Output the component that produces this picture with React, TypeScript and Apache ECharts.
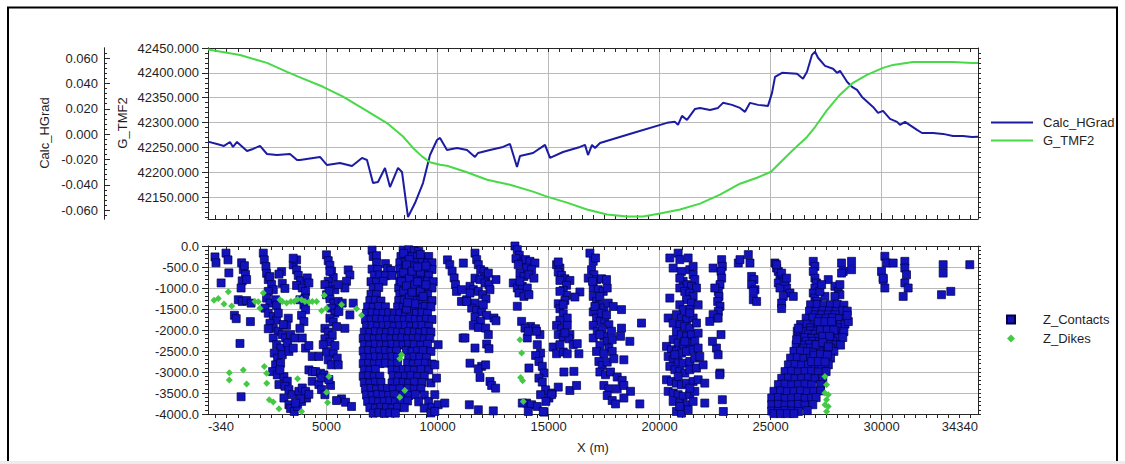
import { useEffect, useRef } from 'react';
import * as echarts from 'echarts';

const FONT = "'Liberation Sans', Arial, Helvetica, sans-serif";
const AXIS = '#262626';
const GRID = '#bababa';
const TEXT = '#1f1f1f';
const BLUE = '#1c1ca3';
const GREEN = '#47d947';

const X_MIN = -340;
const X_MAX = 34340;

// Tick labels
const xLabelValues = [-340, 5000, 10000, 15000, 20000, 25000, 30000, 34340];
const xGridValues = [5000, 10000, 15000, 20000, 25000, 30000];
const tmfLabelValues = [42150, 42200, 42250, 42300, 42350, 42400, 42450];
const gradLabelValues = [-0.06, -0.04, -0.02, 0, 0.02, 0.04, 0.06];
const depthLabelValues = [0, -500, -1000, -1500, -2000, -2500, -3000, -3500, -4000];

// Profile: horizontal gradient along X
const calcHGrad: [number, number][] = [
  [-340, -0.0059], [65, -0.0078], [381, -0.0093], [651, -0.0062], [786, -0.0101], [966, -0.0062],
  [1417, -0.0133], [1687, -0.0117], [2002, -0.0093], [2317, -0.0157], [2768, -0.0165], [3353, -0.0157],
  [3669, -0.0204], [3804, -0.0204], [4704, -0.018], [5020, -0.0244], [5605, -0.0228], [6146, -0.0252],
  [6596, -0.0188], [6821, -0.0204], [7092, -0.0386], [7317, -0.0378], [7632, -0.0267], [7857, -0.0418],
  [8218, -0.0267], [8398, -0.0299], [8668, -0.0655], [8983, -0.0544], [9344, -0.0386], [9659, -0.0165],
  [9974, -0.0046], [10109, -0.003], [10424, -0.0125], [10875, -0.0109], [11325, -0.0125], [11685, -0.018],
  [11821, -0.0149], [12361, -0.0125], [12947, -0.0101], [13262, -0.0078], [13577, -0.0259], [13712, -0.0172],
  [14298, -0.0149], [14838, -0.0085], [15064, -0.0188], [15649, -0.0141], [16415, -0.0101], [16640, -0.0085],
  [16775, -0.0165], [16955, -0.0085], [17090, -0.0109], [17316, -0.007], [18802, 0.0009], [20333, 0.0089],
  [20693, 0.0097], [20829, 0.0073], [21009, 0.0144], [21234, 0.0112], [21595, 0.0199], [21820, 0.0207],
  [22270, 0.0191], [22630, 0.0207], [22856, 0.0247], [23261, 0.0231], [23621, 0.0207], [23846, 0.0176],
  [24072, 0.0247], [24432, 0.0231], [24882, 0.0223], [25063, 0.0326], [25198, 0.0452], [25513, 0.0484],
  [26189, 0.0476], [26459, 0.0437], [26639, 0.0492], [26864, 0.0626], [27000, 0.065], [27135, 0.0603],
  [27450, 0.0539], [27810, 0.0516], [27990, 0.0484], [28125, 0.05], [28441, 0.0413], [28666, 0.0373],
  [28891, 0.035], [29116, 0.0294], [29612, 0.0215], [29837, 0.0168], [30062, 0.0184], [30377, 0.012],
  [30693, 0.0097], [30828, 0.0073], [31053, 0.0097], [31593, 0.0033], [31819, 0.0009], [32314, 0.0009],
  [32765, 0.0002], [33215, -0.0014], [33665, -0.0014], [34071, -0.0022], [34340, -0.002],
];

// Profile: total magnetic field
const gTMF2: [number, number][] = [
  [-340, 42447], [1101, 42436], [2317, 42420], [3218, 42402], [3804, 42391], [4840, 42372],
  [5740, 42352], [6866, 42322], [7722, 42299], [8443, 42272], [8893, 42249], [9299, 42232],
  [9659, 42220], [10109, 42215], [10424, 42213], [11325, 42200], [12226, 42185], [13262, 42175],
  [14298, 42161], [14928, 42151], [15829, 42139], [16730, 42125], [17631, 42115], [18532, 42111],
  [19252, 42111], [20018, 42117], [20919, 42125], [21820, 42137], [22721, 42155], [23621, 42177],
  [24387, 42189], [25018, 42201], [25423, 42219], [26009, 42245], [26639, 42271], [27000, 42291],
  [27540, 42325], [28125, 42356], [28711, 42380], [29341, 42396], [30062, 42410], [30512, 42416],
  [31413, 42422], [32314, 42422], [33215, 42422], [34071, 42420], [34340, 42420],
];

// Section: contact picks [X, Z]
const zContacts: [number, number][] = [
  // 0 - 1600 m
  [-25, -260], [20, -400], [470, -170], [560, -330], [600, -640], [250, -880],
  [1175, -400], [1250, -560], [1350, -680], [1200, -830], [1400, -800], [1150, -1000], [1025, -1280],
  [1200, -1320], [1400, -1300], [1600, -1360], [850, -1650], [930, -1730], [1570, -1800], [1100, -2320],
  [1150, -3590], [1300, -470],
  // 2000 - 4800 m
  [2150, -170], [2195, -330], [2270, -490], [2300, -650], [2375, -800], [2525, -920], [2600, -1040],
  [2375, -1080], [2300, -1240], [2450, -1360], [2705, -1280], [2225, -1480], [2375, -1600], [2600, -1680],
  [2750, -1760], [2450, -1840], [2600, -1960], [2375, -1970], [2825, -2030], [2600, -2190], [3005, -2110],
  [2750, -2350], [2945, -2430], [3155, -2190], [3245, -2310], [2645, -2550], [2795, -2670], [3005, -2590],
  [3305, -2510], [2705, -2830], [2930, -2790], [2570, -2990], [2780, -3070], [3080, -3110], [3230, -3220],
  [2855, -3300], [3125, -3340], [3305, -3420], [3455, -3540], [3080, -3620], [3305, -3780], [3380, -3870],
  [3545, -3940], [3695, -3820], [3875, -3700], [4025, -3500], [4100, -3620], [3755, -3460], [3905, -3380],
  [2975, -610], [2855, -670], [3005, -890], [3125, -1010], [2750, -1410], [3275, -1720], [3200, -1890],
  [3380, -2110], [3575, -2190], [3500, -2430], [2450, -730], [2825, -1600], [3050, -1870], [2900, -2950],
  [3500, -450], [3650, -570], [3725, -700], [3830, -830], [3650, -940], [3905, -1000], [4055, -1080],
  [4130, -760], [4205, -880], [3980, -1400], [4055, -1520], [3875, -1650], [3980, -1800], [3800, -1960],
  [3905, -2190], [4055, -2430], [4205, -2370], [4355, -2630], [4655, -2630], [4205, -2950], [4355, -2990],
  [4505, -2990], [4730, -3030], [4880, -3070], [4355, -3220], [4655, -3300], [4055, -3460], [4205, -3530],
  [3830, -3640], [3605, -3740], [4025, -1240], [3800, -1280], [3650, -330], [3500, -290],
  // 4700 - 6200 m
  [4995, -210], [5075, -350], [5150, -460], [5225, -600], [5300, -750], [5075, -840], [5150, -960],
  [5375, -1040], [5000, -1160], [5150, -1250], [5330, -1360], [5525, -1320], [5705, -1360], [5975, -570],
  [6050, -690], [5900, -840], [5825, -1000], [5225, -1480], [5375, -1600], [5555, -1560], [5150, -1720],
  [5300, -1810], [5450, -1920], [4925, -1960], [5075, -2050], [5255, -2130], [4925, -2210], [5150, -2290],
  [5375, -2370], [5825, -1960], [6050, -1640], [5000, -2510], [5300, -2570], [5480, -2670], [5075, -2710],
  [5225, -2830], [5525, -2830], [6200, -1360], [5180, -3320], [5675, -3640], [5855, -3720], [6125, -3820],
  [5450, -3680], [4775, -3420], [4925, -3540], [5150, -600], [5525, -920], [4925, -920], [5105, -1080],
  [4775, -3140], [5105, -3180], [4850, -2350],
  // 6600 - 10300 m
  [7050, -100], [8450, -100], [8700, -90], [8950, -110], [9150, -130],
  [7100, -250], [7250, -230], [8350, -250], [8600, -240], [8850, -260], [9100, -250], [9350, -270], [9600, -250],
  [7250, -400], [7650, -420], [8300, -400], [8550, -390], [8800, -410], [9050, -400], [9300, -390], [9550, -410], [9750, -400],
  [7050, -550], [7300, -560], [7750, -540], [7900, -580], [8300, -550], [8550, -560], [8800, -540], [9050, -550],
  [9300, -560], [9550, -540], [9750, -560],
  [7150, -700], [7400, -690], [7650, -710], [7950, -700], [8350, -700], [8600, -690], [8850, -710], [9100, -700],
  [9350, -690], [9600, -710],
  [7000, -850], [7250, -860], [7550, -840], [8300, -850], [8550, -860], [8800, -840], [9050, -850], [9300, -860],
  [9550, -840], [9800, -850],
  [7100, -1000], [7350, -990], [8250, -1000], [8500, -1010], [8750, -990], [9000, -1000], [9250, -1010],
  [9500, -990], [9750, -1000],
  [7000, -1150], [7250, -1160], [8300, -1150], [8550, -1140], [8800, -1160], [9050, -1150], [9300, -1140], [9550, -1160],
  [6950, -1300], [7200, -1290], [7450, -1310], [8250, -1300], [8500, -1290], [8750, -1310], [9000, -1300],
  [9250, -1290], [9500, -1310], [9750, -1300],
  [6850, -1450], [7100, -1460], [7350, -1440], [7650, -1450], [8200, -1450], [8450, -1460], [8700, -1440],
  [8950, -1450], [9200, -1460], [9450, -1440], [9700, -1450],
  [6800, -1600], [7050, -1590], [7300, -1610], [7550, -1600], [7800, -1590], [8050, -1610], [8300, -1600],
  [8550, -1590], [8800, -1610], [9050, -1600], [9300, -1590], [9550, -1610],
  [6750, -1750], [7000, -1760], [7250, -1740], [7500, -1750], [7750, -1760], [8000, -1740], [8250, -1750],
  [8500, -1760], [8750, -1740], [9000, -1750], [9250, -1760], [9500, -1740], [9750, -1750],
  [6800, -1900], [7050, -1890], [7300, -1910], [7550, -1900], [7800, -1890], [8050, -1910], [8300, -1900],
  [8550, -1890], [8800, -1910], [9050, -1900], [9300, -1890], [9600, -1910],
  [6700, -2050], [6950, -2060], [7200, -2040], [7450, -2050], [7700, -2060], [7950, -2040], [8200, -2050],
  [8450, -2060], [8700, -2040], [8950, -2050], [9200, -2060], [9450, -2040], [9700, -2050],
  [6650, -2200], [6900, -2190], [7150, -2210], [7400, -2200], [7650, -2190], [7900, -2210], [8150, -2200],
  [8400, -2190], [8650, -2210], [8900, -2200], [9150, -2190], [9400, -2210], [9650, -2200],
  [6700, -2350], [6950, -2360], [7200, -2340], [7450, -2350], [7700, -2360], [7950, -2340], [8200, -2350],
  [8450, -2360], [8700, -2340], [8950, -2350], [9250, -2360], [9550, -2340],
  [6650, -2500], [6900, -2490], [7150, -2510], [7400, -2500], [7650, -2490], [7900, -2510], [8150, -2500],
  [8600, -2490], [8850, -2510], [9100, -2500], [9350, -2490], [9700, -2510],
  [6700, -2650], [6950, -2660], [7200, -2640], [7450, -2650], [7700, -2660], [7950, -2640], [8200, -2650],
  [8700, -2660], [8950, -2640], [9200, -2650], [9500, -2660],
  [6650, -2800], [6900, -2790], [7150, -2810], [7400, -2800], [7650, -2790], [7950, -2810], [8200, -2800],
  [8650, -2790], [8900, -2810], [9150, -2800], [9450, -2790], [9750, -2810],
  [6700, -2950], [6950, -2960], [7200, -2940], [7950, -2950], [8200, -2960], [8450, -2940], [8700, -2950],
  [8950, -2960], [9250, -2940], [9600, -2950],
  [6650, -3100], [6900, -3090], [7150, -3110], [7400, -3100], [8000, -3090], [8250, -3110], [8550, -3100],
  [8800, -3090], [9100, -3110], [9400, -3100],
  [6700, -3250], [6950, -3260], [7200, -3240], [7450, -3250], [7950, -3260], [8200, -3240], [8450, -3250],
  [8700, -3260], [8950, -3240], [9300, -3250], [9700, -3260],
  [6750, -3400], [7000, -3390], [7250, -3410], [7500, -3400], [7750, -3390], [8000, -3410], [8300, -3400],
  [8700, -3390], [8950, -3410], [9250, -3400],
  [6800, -3550], [7050, -3560], [7300, -3540], [7550, -3550], [7800, -3560], [8050, -3540], [8450, -3550],
  [8700, -3560], [9000, -3540], [9400, -3550],
  [6850, -3700], [7100, -3690], [7350, -3710], [7600, -3700], [7850, -3690], [8100, -3710], [8350, -3700],
  [8650, -3690], [9150, -3710], [9600, -3700],
  [6950, -3850], [7200, -3860], [7450, -3840], [7700, -3850], [7950, -3860], [8200, -3840], [8500, -3850],
  [9400, -3860], [9750, -3840],
  [7100, -3980], [7350, -3970], [7600, -3985], [7850, -3975], [8100, -3980], [9700, -3975],
  [8475, -175], [8725, -325], [8975, -475], [9225, -625], [8475, -625], [8725, -775], [8975, -925],
  [9225, -1075], [8475, -1075], [8725, -1225], [8975, -1375], [9225, -200], [9475, -475], [9475, -925],
  [8375, -850], [8600, -1500], [8600, -450], [8850, -600], [9100, -500], [8600, -950], [8850, -1100],
  [9100, -850], [9350, -1200], [8650, -1350],
  [9875, -2830], [9950, -3145], [9875, -3540], [10025, -3780], [9875, -3940], [10325, -3740], [10025, -2350],
  [10445, -330], [10550, -445], [10655, -600], [10745, -760], [10805, -920], [10850, -1080], [11075, -1320], [11150, -2190],
  // 11000 - 12700 m
  [11160, -405], [11685, -170], [11760, -325], [11835, -445], [11940, -565], [12090, -605], [12180, -725],
  [12285, -645], [11685, -765], [11910, -800], [12135, -880], [12315, -920], [12360, -1040], [11460, -960],
  [11610, -1040], [11835, -1080], [12030, -1160], [12180, -1255], [11310, -1280], [11685, -1360], [11535, -1480],
  [11760, -1530], [11985, -1570], [12210, -1650], [12540, -1715], [12630, -1780], [11685, -1690], [11940, -1795],
  [11610, -1890], [11835, -1940], [12165, -1955], [12285, -2110], [11235, -2190], [11685, -2430], [12210, -2335],
  [12315, -2445], [11460, -2790], [11985, -2865], [11835, -2925], [12165, -2830], [11910, -3130], [12360, -3225],
  [12435, -3320], [12615, -3385], [11430, -3780], [11835, -3900], [12510, -3925], [12630, -800], [11085, -1040],
  [11460, -1120], [12060, -1400], [11310, -1320],
  // 13300 - 15200 m
  [13485, 0], [13590, -90], [13680, -220], [13530, -300], [13785, -405], [13965, -325], [14160, -365],
  [14385, -405], [14010, -525], [14235, -565], [13710, -645], [13890, -725], [14115, -685], [14340, -765],
  [13410, -880], [13590, -1000], [13815, -960], [14040, -1000], [13665, -1120], [13890, -1200], [14115, -1160],
  [13590, -1435], [13785, -1795], [14190, -1915], [14415, -1970], [14610, -2110], [14040, -2190], [14490, -2350],
  [14640, -2550], [14415, -2605], [14565, -2750], [14715, -2865], [14790, -3025], [14115, -2905], [14565, -3145],
  [14715, -3240], [14865, -3425], [14640, -3540], [15015, -3620], [15165, -3500], [14010, -3740], [14235, -3780],
  [14490, -3820], [14790, -3955], [14085, -3940], [13815, -3740], [13635, -445], [13710, -840], [13935, -1955],
  [14460, -2030], [14085, -2030],
  // 15200 - 16400 m
  [15360, -445], [15510, -525], [15435, -620], [15585, -700], [15735, -780], [15510, -820], [15960, -820],
  [15810, -935], [15660, -1055], [15810, -1175], [15735, -1295], [15435, -1375], [15510, -1495], [15660, -1615],
  [15840, -1715], [15510, -1770], [15360, -1890], [15585, -1970], [15840, -1890], [15435, -2110], [15660, -2170],
  [15960, -2110], [15210, -2405], [15360, -2565], [15660, -2525], [15840, -2565], [15915, -2210], [16110, -2350],
  [16290, -2325], [16365, -2565], [16410, -1095], [16185, -1215], [15690, -3000], [16140, -2985], [15960, -3440],
  [16260, -3320], [15435, -3360], [15135, -3540], [14880, -3700], [14760, -3940], [15435, -380], [15510, -1080],
  [15660, -1400], [15735, -2070], [15510, -2350],
  // 16700 - 19200 m
  [16860, -170], [17010, -365], [17115, -285], [16935, -565], [17040, -685], [16785, -765], [17160, -800],
  [17385, -780], [17610, -800], [17010, -1000], [17235, -1040], [17460, -1080], [17640, -1000], [17010, -1200],
  [17160, -1320], [17310, -1400], [17490, -1475], [17685, -1360], [17910, -1440], [18285, -1515], [17010, -1570],
  [17160, -1715], [17340, -1795], [17535, -1755], [17715, -1875], [17010, -1890], [17190, -2030], [17415, -1995],
  [17490, -2150], [17640, -2270], [17865, -2230], [18285, -1955], [18240, -2150], [18660, -2270], [19185, -1835],
  [17010, -2190], [17310, -2365], [17715, -2430], [17160, -2510], [17490, -2565], [17865, -2510], [17265, -2750],
  [17415, -2845], [17640, -2765], [17940, -2685], [18390, -2710], [17310, -3000], [17565, -3065], [17790, -3000],
  [18090, -3120], [18315, -3200], [17490, -3320], [17715, -3400], [18090, -3400], [18390, -3320], [18690, -3460],
  [17640, -3560], [17865, -3680], [18015, -3760], [18390, -3620], [19110, -3760], [16980, -840], [17310, -1200],
  [17085, -1440], [17385, -1600], [17610, -1640], [17310, -2110], [17835, -2030],
  // 20200 - 22100 m
  [20460, -285], [20835, -170], [20910, -325], [21285, -285], [20610, -525], [20985, -605], [21360, -565],
  [21510, -685], [21585, -800], [21060, -840], [21210, -920], [21435, -960], [21660, -1000], [20910, -1000],
  [21135, -1080], [21360, -1120], [21510, -1200], [21210, -1280], [21435, -1360], [21735, -1400], [20910, -1400],
  [21060, -1515], [21360, -1515], [20760, -1635], [20985, -1715], [21210, -1755], [21510, -1715], [20385, -1715],
  [20610, -1835], [20910, -1875], [21135, -1915], [21360, -1955], [21660, -1835], [20760, -2035], [20985, -2115],
  [21210, -2150], [21435, -2115], [21735, -2075], [20610, -2230], [20835, -2310], [21060, -2350], [21360, -2310],
  [21585, -2270], [20310, -2390], [20535, -2470], [20760, -2510], [20985, -2550], [21210, -2510], [21510, -2470],
  [21735, -2430], [20385, -2630], [20610, -2710], [20835, -2750], [21060, -2790], [21360, -2750], [21585, -2670],
  [21810, -2630], [20460, -2865], [20685, -2945], [20910, -2985], [21135, -3025], [21360, -2945], [21660, -2905],
  [21960, -2830], [20310, -3185], [20535, -3225], [20760, -3265], [20985, -3305], [21210, -3265], [21510, -3225],
  [21735, -3185], [22035, -3265], [20385, -3460], [20610, -3500], [20835, -3540], [21060, -3580], [21360, -3540],
  [21585, -3460], [20610, -3700], [20910, -3740], [21210, -3780], [21510, -3700], [22035, -3740], [20760, -3940],
  [20985, -3980], [21285, -3900], [20460, -1240], [21510, -485], [20910, -765], [20835, -3105], [21360, -3385],
  [20910, -3820], [20685, -2590], [21135, -2270], [21360, -1595],
  // 22300 - 22900 m
  [22795, -325], [22825, -485], [22765, -605], [22795, -765], [22720, -920], [22645, -1080], [22675, -1200],
  [22615, -1320], [22720, -1435], [22645, -1555], [22570, -1715], [22765, -2110], [22720, -3025], [22825, -3660],
  [22870, -3940], [22410, -525], [22485, -1000], [22410, -1635], [22260, -1795], [22635, -1715], [22560, -2430],
  [22635, -2590], [22710, -3065], [22380, -2270],
  // 23500 - 24400 m
  [23545, -405], [23620, -325], [23995, -205], [24070, -405], [24145, -725], [24250, -800], [24145, -920],
  [24295, -1040], [24220, -1280], [24370, -1320], [24220, -1080],
  // 25000 - 28700 m
  [25195, -405], [25270, -525], [25345, -605], [25420, -725], [25495, -645], [25570, -800], [25645, -920],
  [25720, -1000], [25870, -1120], [26020, -1200], [25345, -880], [25420, -1000], [25570, -1200], [25495, -1360],
  [25495, -1490], [25645, -840], [25270, -445], [25720, -765],
  [26920, -365], [26995, -485], [26920, -605], [26995, -765], [27070, -880], [26995, -1000], [26920, -1120],
  [26995, -1240], [27070, -1320], [27595, -800], [27895, -960], [28045, -1080], [28195, -405], [28270, -605],
  [28645, -365], [28645, -565], [28120, -1160], [27895, -1200], [27445, -1200], [27220, -1080], [27295, -920],
  [28120, -920], [28195, -645],
  [26800, -1400], [27100, -1390], [27400, -1410], [27700, -1400], [28000, -1390], [28300, -1410],
  [26750, -1550], [27050, -1560], [27350, -1540], [27650, -1550], [27950, -1560], [28250, -1540], [28450, -1550],
  [27000, -1640], [27300, -1640], [27600, -1640], [27900, -1640],
  [26600, -1720], [26900, -1710], [27200, -1730], [27500, -1720], [27800, -1710], [28100, -1730], [28400, -1720],
  [26350, -1870], [26650, -1860], [26950, -1880], [27250, -1870], [27550, -1860], [27850, -1880], [28150, -1870], [28350, -1860],
  [26800, -1950], [27100, -1950], [27400, -1950], [27700, -1950], [28000, -1950],
  [26200, -2030], [26500, -2040], [26800, -2020], [27100, -2030], [27400, -2040], [27700, -2020], [28000, -2030], [28300, -2040],
  [26700, -2100], [27000, -2100], [27300, -2100], [27600, -2100], [27900, -2100],
  [26250, -2190], [26550, -2180], [26850, -2200], [27150, -2190], [27450, -2180], [27750, -2200], [28050, -2190], [28250, -2180],
  [26600, -2270], [26900, -2270], [27200, -2270], [27500, -2270], [27800, -2270],
  [26150, -2350], [26450, -2360], [26750, -2340], [27050, -2350], [27350, -2360], [27650, -2340], [27950, -2350], [28150, -2360],
  [26500, -2430], [26800, -2430], [27100, -2430], [27400, -2430], [27700, -2430],
  [26050, -2510], [26350, -2500], [26650, -2520], [26950, -2510], [27250, -2500], [27550, -2520], [27850, -2510],
  [25900, -2670], [26200, -2660], [26500, -2680], [26800, -2670], [27100, -2660], [27400, -2680], [27700, -2670],
  [25800, -2830], [26100, -2820], [26400, -2840], [26700, -2830], [27000, -2820], [27300, -2840], [27600, -2830],
  [25650, -2990], [25950, -2980], [26250, -3000], [26550, -2990], [26850, -2980], [27150, -3000], [27500, -2990],
  [25500, -3150], [25800, -3140], [26100, -3160], [26400, -3150], [26700, -3140], [27000, -3160], [27350, -3150],
  [25350, -3300], [25650, -3290], [25950, -3310], [26250, -3300], [26550, -3290], [26850, -3310], [27250, -3300],
  [25150, -3460], [25450, -3450], [25750, -3470], [26050, -3460], [26350, -3450], [26650, -3470], [26950, -3460], [27250, -3450],
  [25050, -3620], [25350, -3610], [25650, -3630], [25950, -3620], [26250, -3610], [26550, -3630], [26850, -3620], [27050, -3610],
  [25050, -3780], [25350, -3770], [25650, -3790], [25950, -3780], [26250, -3770], [26550, -3790], [26900, -3780],
  [25050, -3930], [25350, -3940], [25650, -3920], [25950, -3930], [26250, -3940], [26650, -3920],
  [25150, -3990], [25450, -3990], [25750, -3990], [26050, -3990],
  [26245, -1955], [26170, -2230], [28500, -1800], [28450, -1650],
  [27150, -1800], [27450, -1800], [27750, -1800], [27250, -2000], [27550, -2000], [27850, -2000], [27350, -2150],
  [27650, -2150], [27050, -2350], [27350, -2300], [27600, -2400], [26950, -2600], [27250, -2580], [27550, -2600],
  [26850, -2750], [27150, -2750], [27450, -2760],
  // 29900 - 34000 m
  [30145, -245], [30220, -405], [29995, -605], [30070, -800], [30145, -1000], [30520, -405], [31045, -365],
  [31045, -525], [31120, -685], [31045, -880], [31195, -1000], [30970, -1200], [30070, -765],
  [32770, -445], [32770, -645], [32695, -1160], [33115, -1080], [33970, -445],
];

// Section: dike picks [X, Z]
const zDikes: [number, number][] = [
  [-70, -1290], [124, -1250], [381, -1380], [575, -1090], [727, -1430], [620, -3020], [620, -3190],
  [1250, -2950], [1400, -3285], [1775, -1320], [1925, -1330], [2000, -1480], [2150, -1120], [2195, -2870],
  [2300, -3030], [2305, -3270], [2420, -3660], [2600, -3715], [2855, -3875], [2900, -1280], [3005, -1320],
  [3200, -1360], [3395, -1320], [3545, -1320], [3695, -1265], [3875, -1280], [4025, -1320], [4205, -1335],
  [4355, -1320], [4550, -1320], [4775, -1540], [3695, -3160], [3875, -3940], [4895, -1175], [5000, -1480],
  [5105, -3105], [5000, -3480], [5045, -3725], [5675, -1400], [6350, -1495], [6575, -1650], [8375, -2590],
  [8300, -2685], [8525, -3440], [8300, -3600], [13710, -2230], [13785, -2550], [13740, -3130], [13830, -3210],
  [13860, -3700], [27445, -3105], [27520, -3305], [27445, -3500], [27595, -3540], [27520, -3660], [27445, -3780],
  [27595, -3820], [27520, -3940],
];

// Evenly spaced minor tick positions
function ticksBetween(from: number, to: number, step: number, digits = 0): number[] {
  const out: number[] = [];
  for (let i = 0; from + i * step <= to + step * 1e-6; i++) {
    out.push(Number((from + i * step).toFixed(digits)));
  }
  return out;
}

const xMinorTicks = ticksBetween(0, 34000, 500);
const tmfMinorTicks = ticksBetween(42110, 42440, 10);
const gradMinorTicks = ticksBetween(-0.064, 0.064, 0.004, 3);
const depthMinorTicks = ticksBetween(-4000, 0, 100);

const labelStyle = { fontFamily: FONT, fontSize: 13, color: TEXT };
const lineStyle = { color: AXIS, width: 1 };

function buildOption() {
  const xBase = {
    type: 'value',
    min: X_MIN,
    max: X_MAX,
    axisLabel: { show: false },
    splitLine: { show: false },
    axisLine: { show: true, onZero: false, lineStyle },
  };
  const tmfBase = {
    type: 'value',
    gridIndex: 0,
    min: 42106,
    max: 42450,
    axisLabel: { show: false },
    splitLine: { show: false },
    axisLine: { show: true, onZero: false, lineStyle },
  };
  const gradBase = {
    type: 'value',
    gridIndex: 0,
    position: 'left',
    offset: 104,
    min: -0.067,
    max: 0.068,
    axisLabel: { show: false },
    splitLine: { show: false },
    axisLine: { show: true, onZero: false, lineStyle },
  };
  const depthBase = {
    type: 'value',
    gridIndex: 1,
    min: -4000,
    max: 0,
    axisLabel: { show: false },
    splitLine: { show: false },
    axisLine: { show: true, onZero: false, lineStyle },
  };

  return {
    animation: false,
    backgroundColor: '#ffffff',
    textStyle: { fontFamily: FONT },
    grid: [
      { left: 208, top: 48, width: 770, height: 171 },
      { left: 208, top: 246, width: 770, height: 168 },
    ],
    xAxis: [
      { ...xBase, gridIndex: 0, position: 'bottom', axisTick: { show: true, inside: true, length: 4, customValues: xMinorTicks, lineStyle } },
      { ...xBase, gridIndex: 0, position: 'top', axisTick: { show: true, inside: true, length: 4, customValues: xMinorTicks, lineStyle } },
      {
        ...xBase, gridIndex: 0, position: 'bottom', axisLine: { show: false, onZero: false },
        axisTick: { show: true, inside: true, length: 6, customValues: xGridValues, lineStyle },
        splitLine: { show: true, lineStyle: { color: GRID, width: 1 } },
      },
      {
        ...xBase, gridIndex: 1, position: 'bottom',
        name: 'X (m)', nameLocation: 'middle', nameGap: 27, nameTextStyle: { ...labelStyle },
        axisTick: { show: true, inside: false, length: 4, customValues: xMinorTicks, lineStyle },
        axisLabel: {
          show: true, customValues: xLabelValues, margin: 6, alignMinLabel: 'left', alignMaxLabel: 'right',
          formatter: (v: number) => String(v), ...labelStyle,
        },
      },
      { ...xBase, gridIndex: 1, position: 'top', axisTick: { show: true, inside: true, length: 4, customValues: xMinorTicks, lineStyle } },
      {
        ...xBase, gridIndex: 1, position: 'bottom', axisLine: { show: false, onZero: false },
        axisTick: { show: true, inside: false, length: 6, customValues: xGridValues, lineStyle },
        splitLine: { show: true, lineStyle: { color: GRID, width: 1 } },
      },
    ],
    yAxis: [
      {
        ...tmfBase, position: 'left',
        axisTick: { show: true, length: 6, customValues: tmfLabelValues, lineStyle },
        axisLabel: { show: true, customValues: tmfLabelValues, margin: 9, formatter: (v: number) => v.toFixed(3), ...labelStyle },
        splitLine: { show: true, lineStyle: { color: GRID, width: 1 } },
      },
      { ...tmfBase, position: 'left', axisTick: { show: true, length: 3, customValues: tmfMinorTicks, lineStyle } },
      {
        ...gradBase,
        axisTick: { show: true, inside: true, length: 6, customValues: gradLabelValues, lineStyle },
        axisLabel: { show: true, customValues: gradLabelValues, margin: 6, formatter: (v: number) => v.toFixed(3), ...labelStyle },
      },
      { ...gradBase, axisTick: { show: true, inside: true, length: 3, customValues: gradMinorTicks, lineStyle } },
      { ...tmfBase, position: 'right', axisTick: { show: true, length: 3, customValues: tmfMinorTicks, lineStyle } },
      {
        ...depthBase, position: 'left',
        axisTick: { show: true, length: 6, customValues: depthLabelValues, lineStyle },
        axisLabel: { show: true, customValues: depthLabelValues, margin: 9, formatter: (v: number) => v.toFixed(1), ...labelStyle },
        splitLine: { show: true, lineStyle: { color: GRID, width: 1 } },
      },
      { ...depthBase, position: 'left', axisTick: { show: true, length: 3, customValues: depthMinorTicks, lineStyle } },
      { ...depthBase, position: 'right', axisTick: { show: true, length: 3, customValues: depthMinorTicks, lineStyle } },
    ],
    legend: [
      {
        data: ['Calc_HGrad', 'G_TMF2'],
        orient: 'vertical', left: 990, top: 116, padding: 0,
        itemWidth: 42, itemHeight: 14, itemGap: 5, selectedMode: false,
        itemStyle: { opacity: 0 },
        textStyle: { ...labelStyle, padding: [0, 0, 0, 5] },
      },
      {
        data: [{ name: 'Z_Contacts', icon: 'rect' }, { name: 'Z_Dikes', icon: 'diamond' }],
        orient: 'vertical', left: 1006, top: 313, padding: 0,
        itemWidth: 8, itemHeight: 8, itemGap: 6, selectedMode: false,
        textStyle: { ...labelStyle, padding: [0, 0, 0, 23] },
      },
    ],
    graphic: [
      {
        type: 'polyline', silent: true, z: 100,
        shape: { points: [[8, 461], [8, 7.5], [1117, 7.5], [1117, 461]] },
        style: { fill: 'none', stroke: '#000000', lineWidth: 2 },
      },
      { type: 'rect', silent: true, shape: { x: 0, y: 461, width: 1125, height: 3 }, style: { fill: '#ececec' } },
      {
        type: 'text', x: 44, y: 133, rotation: Math.PI / 2, silent: true,
        style: { text: 'Calc_HGrad', fontFamily: FONT, fontSize: 13, fill: TEXT, align: 'center', verticalAlign: 'middle' },
      },
      {
        type: 'text', x: 122, y: 123, rotation: Math.PI / 2, silent: true,
        style: { text: 'G_TMF2', fontFamily: FONT, fontSize: 13, fill: TEXT, align: 'center', verticalAlign: 'middle' },
      },
    ],
    series: [
      {
        name: 'Calc_HGrad', type: 'line', xAxisIndex: 0, yAxisIndex: 2, data: calcHGrad,
        symbol: 'none', lineStyle: { color: BLUE, width: 2 }, itemStyle: { color: BLUE },
      },
      {
        name: 'G_TMF2', type: 'line', xAxisIndex: 0, yAxisIndex: 0, data: gTMF2,
        symbol: 'none', lineStyle: { color: GREEN, width: 2 }, itemStyle: { color: GREEN },
      },
      {
        name: 'Z_Contacts', type: 'scatter', xAxisIndex: 3, yAxisIndex: 5, data: zContacts,
        symbol: 'rect', symbolSize: 8,
        itemStyle: { color: '#1313be', borderColor: '#00004a', borderWidth: 0.7, opacity: 1 },
      },
      {
        name: 'Z_Dikes', type: 'scatter', xAxisIndex: 3, yAxisIndex: 5, data: zDikes,
        symbol: 'diamond', symbolSize: 7,
        itemStyle: { color: '#44c944', opacity: 1 },
      },
    ],
  };
}

export default function App() {
  const ref = useRef<HTMLDivElement>(null);
  useEffect(() => {
    if (!ref.current) return;
    const chart = echarts.init(ref.current, undefined, { renderer: 'svg' });
    chart.setOption(buildOption() as any);
    return () => chart.dispose();
  }, []);
  return (
    <div
      ref={ref}
      style={{ position: 'absolute', left: 0, top: 0, width: 1125, height: 464, background: '#ffffff' }}
    />
  );
}
